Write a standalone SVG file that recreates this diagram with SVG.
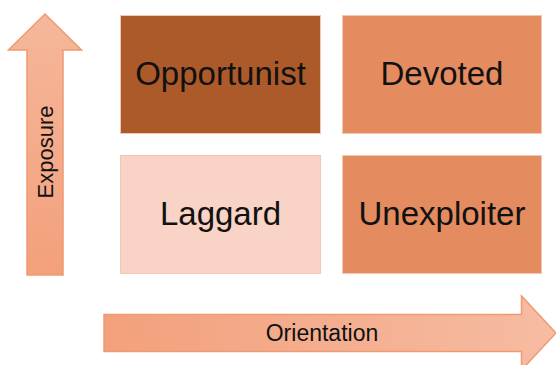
<svg xmlns="http://www.w3.org/2000/svg" width="556" height="365" viewBox="0 0 556 365">
<defs>
<linearGradient id="gv" x1="0" y1="1" x2="0" y2="0"><stop offset="0" stop-color="#F3A07C"/><stop offset="1" stop-color="#F6B79A"/></linearGradient>
<linearGradient id="gh" x1="0" y1="0" x2="1" y2="0"><stop offset="0" stop-color="#F3A07C"/><stop offset="1" stop-color="#F6BCA2"/></linearGradient>
</defs>
<style>
.box{stroke:#F3C6B0;stroke-width:1}
.lbl{font-family:"Liberation Sans",Arial,sans-serif;font-size:33px;fill:#111;text-anchor:middle}
.axl{font-family:"Liberation Sans",Arial,sans-serif;font-size:22px;fill:#111;text-anchor:middle}
.arr{stroke:#EE9A72;stroke-width:1.5}
</style>
<g id="exposure-arrow">
<polygon class="arr" fill="url(#gv)" points="45,14 81.5,50 63,50 63,275 27,275 27,50 8.5,50"/>
<text class="axl" transform="translate(52.5,152) rotate(-90)">Exposure</text>
</g>
<g id="orientation-arrow">
<polygon class="arr" fill="url(#gh)" points="104,314.5 521.5,314.5 521.5,296 556,333 521.5,370 521.5,351.5 104,351.5"/>
<text class="axl" x="322" y="341" style="font-size:23px">Orientation</text>
</g>
<g id="opportunist">
<rect class="box" x="120.5" y="15.5" width="200" height="118" fill="#AD5A2A"/>
<text class="lbl" x="220.5" y="85">Opportunist</text>
</g>
<g id="devoted">
<rect class="box" x="342.5" y="15.5" width="199" height="118" fill="#E58B60"/>
<text class="lbl" x="442" y="85">Devoted</text>
</g>
<g id="laggard">
<rect class="box" x="120.5" y="155.5" width="200" height="118" fill="#F8D3C6"/>
<text class="lbl" x="220.5" y="225">Laggard</text>
</g>
<g id="unexploiter">
<rect class="box" x="342.5" y="155.5" width="199" height="118" fill="#E58B60"/>
<text class="lbl" x="442" y="225">Unexploiter</text>
</g>
<g id="connectors"/>
</svg>
